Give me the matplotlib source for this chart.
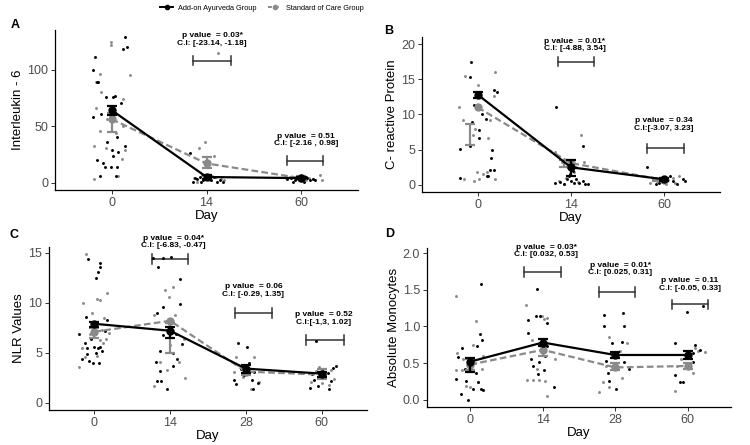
import matplotlib.pyplot as plt
from matplotlib.lines import Line2D

plt.rcParams['font.family'] = ['Liberation Sans', 'DejaVu Sans']

BLACK = '#000000'
GRAY = '#8a8a8a'

# ---------------- Panel A : Interleukin - 6 ----------------
A_days = ['0', '14', '60']
A_ayur_mean = [64, 5, 4]
A_ayur_lo = [60, 3.5, 3]
A_ayur_hi = [68, 6.5, 5]
A_soc_mean = [56, 17, 4]
A_soc_lo = [45, 13, 3]
A_soc_hi = [62, 23, 5.5]
A_ayur_pts = [
    [(-0.18, 111), (-0.2, 100), (-0.16, 89), (-0.15, 89), (0.14, 129), (0.16, 120), (0.12, 118),
     (-0.2, 58), (-0.11, 61), (-0.06, 76), (0.03, 77), (0.01, 76), (0.1, 70), (-0.16, 20),
     (-0.09, 17), (-0.07, 14), (-0.01, 14), (0.05, 14), (-0.12, 6), (-0.05, 36), (0.0, 29),
     (0.01, 24), (0.07, 27), (0.14, 32), (0.06, 40), (0.04, 6)],
    [(-0.17, 26), (-0.14, 1), (-0.1, 3), (-0.07, 5), (-0.04, 2), (-0.02, 4), (0.0, 6), (0.02, 3),
     (0.05, 2), (0.08, 5), (0.11, 1), (0.14, 2), (-0.12, 4), (0.03, 3), (0.17, 1), (-0.06, 1)],
    [(-0.15, 3), (-0.11, 4), (-0.07, 2), (-0.03, 5), (0.0, 3), (0.03, 1), (0.06, 4), (0.09, 2),
     (0.12, 3), (-0.09, 1), (0.05, 5), (0.15, 2)],
]
A_soc_pts = [
    [(-0.01, 124), (-0.01, 122), (0.19, 95), (-0.12, 96), (-0.17, 89), (-0.11, 80), (-0.17, 66),
     (-0.13, 46), (-0.19, 32), (-0.19, 3), (-0.06, 31), (0.12, 74), (0.12, 50), (0.14, 29),
     (0.11, 21), (0.07, 6), (0.04, 44), (-0.05, 56)],
    [(-0.02, 36), (-0.08, 31), (0.08, 24), (0.12, 115), (-0.13, 4), (-0.05, 7), (0.04, 2),
     (0.1, 5), (0.15, 3), (-0.1, 1), (0.06, 6), (0.18, 2)],
    [(-0.12, 5), (-0.06, 3), (0.02, 6), (0.08, 4), (0.2, 7), (0.22, 2), (-0.16, 4), (0.12, 3),
     (0.05, 2), (-0.02, 5)],
]
A_brackets = [(1.86, 2.26, 108, 2.06, 130, 123, 'p value  = 0.03*', 'C.I: [-23.14, -1.18]'),
              (2.85, 3.23, 19.5, 3.05, 41, 34.5, 'p value  = 0.51', 'C.I: [-2.16 , 0.98]')]

# ---------------- Panel B : C- reactive Protein ----------------
B_days = ['0', '14', '60']
B_ayur_mean = [12.8, 2.5, 0.8]
B_ayur_lo = [12.4, 1.3, 0.6]
B_ayur_hi = [13.2, 3.5, 1.0]
B_soc_mean = [11.0, 3.1, 0.7]
B_soc_lo = [5.7, 2.6, 0.5]
B_soc_hi = [8.6, 3.5, 0.9]
B_ayur_pts = [
    [(-0.07, 17.4), (-0.08, 15.3), (0.17, 13.5), (0.2, 13.2), (-0.04, 11.4), (0.02, 11),
     (0.04, 10.1), (0.09, 9.3), (-0.06, 8.9), (0.01, 7.8), (0.01, 6.7), (-0.08, 5.5),
     (-0.19, 5.1), (0.15, 5), (0.14, 3.8), (0.13, 2.1), (0.17, 2.1), (0.1, 1.3), (0.11, 1.2),
     (-0.19, 1)],
    [(-0.16, 11), (0.13, 5.5), (-0.03, 2.6), (-0.17, 0.3), (-0.12, 0.4), (-0.08, 0.2),
     (-0.04, 0.9), (-0.01, 1.5), (0.02, 2.0), (0.05, 0.8), (0.09, 0.3), (0.13, 0.5),
     (0.15, 0.2), (0.18, 0.1), (-0.02, 1.2), (0.0, 0.6), (0.03, 0.3)],
    [(-0.18, 2.5), (-0.12, 0.9), (-0.05, 0.3), (0.0, 0.8), (0.06, 1.3), (0.1, 0.5),
     (0.14, 0.2), (0.2, 0.9), (0.22, 0.6), (-0.09, 0.1)],
]
B_soc_pts = [
    [(-0.14, 15.5), (0.0, 14.2), (0.17, 12.6), (0.18, 16), (-0.2, 11.1), (-0.16, 9.2),
     (-0.03, 8), (-0.05, 7.1), (0.11, 6.7), (0.13, 9.2), (-0.15, 0.8), (-0.04, 0.6),
     (0.01, 0.8), (-0.01, 1.9), (0.1, 1.9), (0.18, 0.8), (0.06, 1.6)],
    [(0.11, 7.1), (-0.17, 4.7), (-0.1, 3.2), (-0.05, 1.0), (0.0, 3.5), (0.05, 2.5), (0.08, 0.4),
     (0.14, 3.3), (-0.13, 0.5), (0.03, 1.8), (-0.08, 0.1)],
    [(-0.15, 0.3), (-0.08, 0.6), (-0.02, 0.4), (0.04, 0.7), (0.09, 1.0), (0.16, 1.2),
     (0.12, 0.3), (-0.11, 0.9), (0.02, 0.2)],
]
B_brackets = [(1.86, 2.25, 17.5, 2.04, 20.4, 19.3, 'p value  = 0.01*', 'C.I: [-4.88, 3.54]'),
              (2.82, 3.21, 5.2, 3.0, 9.2, 8.0, 'p value  = 0.34', 'C.I:[-3.07, 3.23]')]

# ---------------- Panel C : NLR Values ----------------
C_days = ['0', '14', '28', '60']
C_ayur_mean = [7.9, 7.2, 3.4, 2.9]
C_ayur_lo = [7.6, 6.5, 3.0, 2.6]
C_ayur_hi = [8.1, 7.6, 3.8, 3.1]
C_soc_mean = [7.1, 8.2, 3.1, 2.8]
C_soc_lo = [6.5, 5.0, 2.8, 2.4]
C_soc_hi = [7.5, 8.0, 3.4, 3.4]
C_ayur_pts = [
    [(-0.09, 14.4), (0.08, 14.0), (0.07, 13.6), (0.05, 13.1), (0.02, 12.5), (0.17, 8.3),
     (-0.11, 8.6), (-0.2, 6.9), (-0.05, 6.4), (-0.13, 6.0), (-0.1, 5.5), (0.0, 5.6), (0.05, 5.5),
     (0.08, 5.6), (0.02, 5.0), (-0.1, 4.9), (-0.16, 4.4), (-0.07, 4.2), (-0.02, 4.0),
     (0.06, 4.0), (0.1, 5.2), (0.14, 7.2)],
    [(-0.22, 14.5), (-0.09, 14.5), (0.01, 14.6), (-0.16, 13.6), (0.13, 12.4), (-0.18, 9.0),
     (-0.09, 9.6), (0.13, 9.9), (-0.09, 6.8), (0.08, 6.9), (-0.13, 5.2), (-0.19, 4.1),
     (-0.14, 3.2), (-0.18, 2.2), (-0.12, 2.2), (-0.04, 1.4), (0.04, 3.7), (0.09, 4.4),
     (0.16, 5.9), (0.04, 5.0)],
    [(-0.1, 6.0), (0.01, 5.6), (-0.16, 2.3), (-0.13, 1.9), (0.08, 2.3), (0.16, 2.0),
     (-0.03, 2.8), (0.11, 3.1), (-0.02, 3.7), (0.04, 4.0), (0.09, 1.4), (-0.07, 3.4)],
    [(-0.07, 6.2), (0.19, 3.7), (0.15, 3.5), (-0.1, 2.3), (-0.05, 1.7), (0.1, 1.4), (0.12, 2.2),
     (0.02, 2.6), (0.0, 3.3), (-0.12, 2.9), (0.08, 3.0), (-0.15, 1.5)],
]
C_soc_pts = [
    [(-0.11, 14.9), (0.04, 10.4), (0.08, 10.3), (0.17, 11.0), (-0.15, 10.0), (0.12, 8.5),
     (-0.03, 9.0), (0.0, 7.5), (0.1, 7.3), (-0.2, 3.6), (-0.12, 4.6), (0.07, 6.3), (-0.06, 6.9),
     (0.15, 6.4), (0.19, 7.0), (-0.17, 5.5), (0.03, 4.7), (0.11, 6.0)],
    [(-0.07, 11.3), (0.04, 11.6), (-0.02, 10.6), (-0.21, 8.8), (0.07, 8.8), (0.18, 6.4),
     (-0.14, 4.1), (-0.04, 3.3), (0.19, 2.5), (-0.21, 1.7), (0.12, 4.1), (0.0, 5.8)],
    [(-0.13, 4.6), (0.11, 4.6), (-0.16, 3.1), (0.18, 2.1), (0.07, 1.4), (-0.04, 2.6),
     (0.03, 3.4), (-0.1, 3.8)],
    [(0.13, 3.3), (0.05, 2.6), (-0.08, 3.2), (0.16, 2.4), (-0.14, 2.1), (0.1, 1.8),
     (-0.03, 3.6), (0.0, 2.0)],
]
C_brackets = [(1.76, 2.24, 14.4, 2.04, 16.5, 15.8, 'p value  = 0.04*', 'C.I: [-6.83, -0.47]'),
              (2.86, 3.35, 9.0, 3.1, 11.6, 10.8, 'p value  = 0.06', 'C.I: [-0.29, 1.35]'),
              (3.8, 4.29, 6.3, 4.03, 8.8, 8.0, 'p value  = 0.52', 'C.I:[-1,3, 1.02]')]

# ---------------- Panel D : Absolute Monocytes ----------------
D_days = ['0', '14', '28', '60']
D_ayur_mean = [0.52, 0.78, 0.61, 0.61]
D_ayur_lo = [0.38, 0.73, 0.57, 0.55]
D_ayur_hi = [0.57, 0.83, 0.65, 0.67]
D_soc_mean = [0.48, 0.68, 0.44, 0.46]
D_soc_lo = [0.40, 0.60, 0.40, 0.42]
D_soc_hi = [0.55, 0.75, 0.50, 0.50]
D_ayur_pts = [
    [(0.15, 1.58), (0.13, 0.89), (0.16, 0.82), (0.09, 0.73), (-0.11, 0.71), (-0.17, 0.58),
     (-0.2, 0.28), (-0.13, 0.08), (-0.04, 0.0), (-0.06, 0.26), (0.03, 0.14), (0.1, 0.24),
     (0.15, 0.15), (0.18, 0.13), (0.08, 0.37), (-0.07, 0.42), (0.01, 0.55)],
    [(-0.08, 1.51), (-0.21, 1.09), (-0.1, 1.14), (-0.04, 1.14), (0.06, 1.05), (-0.2, 0.91),
     (0.06, 0.73), (-0.17, 0.56), (-0.13, 0.46), (-0.05, 0.51), (0.01, 0.41), (0.03, 0.6),
     (0.15, 0.17), (-0.07, 0.35)],
    [(-0.16, 1.15), (-0.15, 1.01), (0.11, 1.18), (0.12, 1.0), (0.1, 0.79), (-0.04, 0.78),
     (-0.13, 0.53), (-0.1, 0.37), (-0.08, 0.26), (0.01, 0.15), (0.12, 0.51), (0.19, 0.42)],
    [(-0.01, 1.2), (-0.17, 0.77), (-0.01, 0.66), (0.08, 0.64), (0.17, 0.68), (-0.17, 0.33),
     (-0.1, 0.24), (-0.07, 0.24), (0.08, 0.51), (0.22, 1.28), (0.1, 0.75)],
]
D_soc_pts = [
    [(-0.2, 1.41), (0.08, 1.08), (0.03, 0.75), (-0.19, 0.64), (-0.2, 0.4), (-0.11, 0.4),
     (-0.06, 0.19), (-0.01, 0.17), (0.1, 0.24), (0.16, 0.42), (0.18, 0.6), (-0.1, 0.55),
     (0.06, 0.5)],
    [(-0.23, 1.29), (-0.01, 1.14), (0.01, 1.1), (0.06, 1.12), (-0.15, 0.82), (-0.22, 0.27),
     (-0.14, 0.27), (-0.05, 0.27), (0.03, 0.26), (0.06, 0.05), (0.17, 0.55), (-0.01, 0.78),
     (-0.08, 0.42)],
    [(-0.08, 0.85), (0.17, 0.78), (-0.17, 0.24), (-0.22, 0.1), (-0.08, 0.17), (0.1, 0.3),
     (-0.13, 0.46), (0.06, 0.66)],
    [(-0.17, 0.12), (0.1, 0.7), (0.15, 0.66), (0.24, 0.65), (-0.09, 0.56), (0.01, 0.46),
     (0.08, 0.37), (-0.15, 0.46)],
]
D_brackets = [(1.74, 2.25, 1.74, 2.05, 2.08, 1.98, 'p value  = 0.03*', 'C.I: [0.032, 0.53]'),
              (2.78, 3.28, 1.47, 3.07, 1.83, 1.73, 'p value  = 0.01*', 'C.I: [0.025, 0.31]'),
              (3.79, 4.28, 1.30, 4.03, 1.63, 1.52, 'p value  = 0.11', 'C.I: [-0.05, 0.33]')]


def err_bars(ax, xs, lo, hi, color, z):
    mid = [(l + h) / 2 for l, h in zip(lo, hi)]
    half = [(h - l) / 2 for l, h in zip(lo, hi)]
    ax.errorbar(xs, mid, yerr=half, fmt='none', ecolor=color, elinewidth=1.6,
                capsize=3.5, capthick=1.6, zorder=z)


def draw_panel(ax, days, ayur_pts, soc_pts, ayur_mean, ayur_lo, ayur_hi,
               soc_mean, soc_lo, soc_hi, brackets, ylabel, ylim, yticks, ytl,
               soc_err_shift=0.0):
    xs = list(range(1, len(days) + 1))
    for i, x in enumerate(xs):
        ax.scatter([x + p[0] for p in soc_pts[i]], [p[1] for p in soc_pts[i]],
                   s=4.5, color=GRAY, lw=0, zorder=2)
        ax.scatter([x + p[0] for p in ayur_pts[i]], [p[1] for p in ayur_pts[i]],
                   s=4.5, color=BLACK, lw=0, zorder=3)
    # standard of care
    ax.plot(xs, soc_mean, color=GRAY, lw=1.6, ls=(0, (3, 1.5)), marker='o', ms=5, zorder=4)
    err_bars(ax, [x + soc_err_shift for x in xs], soc_lo, soc_hi, GRAY, 4)
    # add-on ayurveda
    ax.plot(xs, ayur_mean, color=BLACK, lw=1.6, marker='o', ms=5, zorder=5)
    err_bars(ax, xs, ayur_lo, ayur_hi, BLACK, 5)
    # p-value brackets
    tick = (ylim[1] - ylim[0]) * 0.03
    for x0, x1, yb, xt, yp, yc, ptxt, ctxt in brackets:
        ax.plot([x0, x1], [yb, yb], color='#333333', lw=1.1, clip_on=False)
        ax.plot([x0, x0], [yb - tick, yb + tick], color='#333333', lw=1.1, clip_on=False)
        ax.plot([x1, x1], [yb - tick, yb + tick], color='#333333', lw=1.1, clip_on=False)
        ax.text(xt, yp, ptxt, ha='center', va='center', fontsize=6, fontweight='bold')
        ax.text(xt, yc, ctxt, ha='center', va='center', fontsize=6, fontweight='bold')

    ax.set_xlim(0.4, len(days) + 0.6)
    ax.set_ylim(*ylim)
    ax.set_xticks(xs)
    ax.set_xticklabels(days)
    ax.set_yticks(yticks)
    ax.set_yticklabels(ytl)
    ax.tick_params(labelsize=9, colors='#333333', length=3, width=0.7, pad=2)
    ax.tick_params(axis='both', labelcolor='#4d4d4d')
    for s in ['top', 'right']:
        ax.spines[s].set_visible(False)
    for s in ['left', 'bottom']:
        ax.spines[s].set_linewidth(0.9)
    ax.set_xlabel('Day', fontsize=9.5, labelpad=1)
    ax.set_ylabel(ylabel, fontsize=9.5, labelpad=2)


fig = plt.figure(figsize=(7.5, 4.45), dpi=100)
W, H = 750, 445


def px_axes(l, t, r, b):
    return fig.add_axes([l / W, 1 - b / H, (r - l) / W, (b - t) / H])


axA = px_axes(55, 30, 358, 190)
axB = px_axes(422, 37, 720, 192)
axC = px_axes(49, 247, 367, 410)
axD = px_axes(427, 248, 731, 407)

draw_panel(axA, A_days, A_ayur_pts, A_soc_pts, A_ayur_mean, A_ayur_lo, A_ayur_hi,
           A_soc_mean, A_soc_lo, A_soc_hi, A_brackets, 'Interleukin - 6',
           (-6.5, 135), [0, 50, 100], ['0', '50', '100'])
draw_panel(axB, B_days, B_ayur_pts, B_soc_pts, B_ayur_mean, B_ayur_lo, B_ayur_hi,
           B_soc_mean, B_soc_lo, B_soc_hi, B_brackets, 'C- reactive Protein',
           (-1.0, 21), [0, 5, 10, 15, 20], ['0', '5', '10', '15', '20'],
           soc_err_shift=-0.08)
draw_panel(axC, C_days, C_ayur_pts, C_soc_pts, C_ayur_mean, C_ayur_lo, C_ayur_hi,
           C_soc_mean, C_soc_lo, C_soc_hi, C_brackets, 'NLR Values',
           (-0.75, 15.6), [0, 5, 10, 15], ['0', '5', '10', '15'])
draw_panel(axD, D_days, D_ayur_pts, D_soc_pts, D_ayur_mean, D_ayur_lo, D_ayur_hi,
           D_soc_mean, D_soc_lo, D_soc_hi, D_brackets, 'Absolute Monocytes',
           (-0.1, 2.07), [0, 0.5, 1.0, 1.5, 2.0], ['0.0', '0.5', '1.0', '1.5', '2.0'])

for lab, x, y in [('A', 15, 25), ('B', 389, 31), ('C', 14, 235), ('D', 390, 234)]:
    fig.text(x / W, 1 - y / H, lab, fontsize=9, fontweight='bold', ha='center', va='center')

handles = [Line2D([], [], color=BLACK, lw=1.4, marker='o', ms=3),
           Line2D([], [], color=GRAY, lw=1.4, ls=(0, (2, 1.5)), marker='o', ms=3)]
fig.legend(handles, ['Add-on Ayurveda Group', 'Standard of Care Group'], loc='center',
           bbox_to_anchor=(262 / W, 1 - 8 / H), ncol=2, frameon=False, fontsize=5.3,
           handlelength=1.7, columnspacing=1.6, handletextpad=0.7)

fig.savefig('out.png', dpi=100)
